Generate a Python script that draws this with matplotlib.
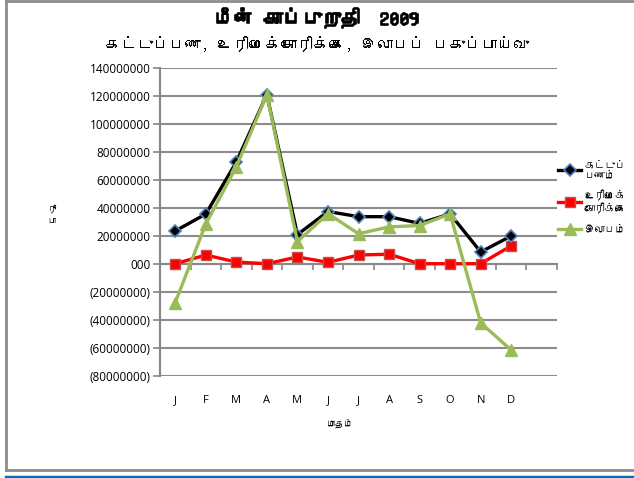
import matplotlib
matplotlib.use("Agg")
import matplotlib.pyplot as plt
from matplotlib import font_manager
from matplotlib import patheffects
from matplotlib.ft2font import FT2Font
from matplotlib.lines import Line2D
import numpy as np

# data (rupees)
months = ["J", "F", "M", "A", "M", "J", "J", "A", "S", "O", "N", "D"]
premium = [23.6e6, 35.7e6, 72.9e6, 121e6, 21e6, 37.5e6, 33.8e6, 33.8e6, 29e6, 35.8e6, 8.6e6, 20e6]
claims = [0.2e6, 6.4e6, 1.4e6, 0.2e6, 5e6, 1.2e6, 6.4e6, 7e6, 0.2e6, 0.2e6, 0.2e6, 13e6]
profit = [-27.5e6, 28.6e6, 69.5e6, 121e6, 16e6, 36e6, 21.6e6, 26.5e6, 27.5e6, 35.8e6, -42e6, -61.5e6]

ytick_vals = [140e6, 120e6, 100e6, 80e6, 60e6, 40e6, 20e6, 0, -20e6, -40e6, -60e6, -80e6]
ytick_labels = ["140000000", "120000000", "100000000", "80000000", "60000000",
                "40000000", "20000000", "000", "(20000000)", "(40000000)",
                "(60000000)", "(80000000)"]

series_names = ["கட்டுப்\nபணம்", "உரிமைக்\nகோரிக்கை", "இலாபம்"]
title1 = "மீன் காப்புறுதி  2009"
title2 = "கட்டுப்பண, உரிமைக்கோரிக்கை, இலாபப் பகுப்பாய்வு"


def find_tamil_font():
    for f in font_manager.fontManager.ttflist:
        try:
            ft = FT2Font(f.fname)
            if ft.get_char_index(0x0BAE) and ft.get_char_index(0x0BC0):
                return f.name
        except Exception:
            pass
    return None


tam = find_tamil_font()
fams = ([tam] if tam else []) + ["DejaVu Sans"]
plt.rcParams["font.family"] = ["DejaVu Sans"]

fig = plt.figure(figsize=(6.34, 4.78), dpi=100)
ax = fig.add_axes([160 / 634, 1 - 376 / 478, 397 / 634, 308 / 478])

# outer frame and blue rule
fig.add_artist(Line2D([6 / 634, 6 / 634], [1 - 0.5 / 478, 1 - 470 / 478],
                      transform=fig.transFigure, color="#8c8c8c", lw=2))
fig.add_artist(Line2D([6 / 634, 1], [1 - 0.5 / 478, 1 - 0.5 / 478],
                      transform=fig.transFigure, color="#8c8c8c", lw=2))
fig.add_artist(Line2D([6 / 634, 1], [1 - 470 / 478, 1 - 470 / 478],
                      transform=fig.transFigure, color="#8c8c8c", lw=2))
fig.add_artist(Line2D([6 / 634, 1], [1 - 476.5 / 478, 1 - 476.5 / 478],
                      transform=fig.transFigure, color="#0070C0", lw=2.5))

x = np.arange(len(months))
ax.plot(x, premium, color="black", lw=2.4, marker="D", ms=6,
        mfc="black", mec="#4F81BD", mew=1.2, label=series_names[0], zorder=4)
ax.plot(x, claims, color="#FF0000", lw=2.4, marker="s", ms=7,
        mfc="#FF0000", mec="#C0504D", mew=1, label=series_names[1], zorder=3)
ax.plot(x, profit, color="#9BBB59", lw=2.4, marker="^", ms=8,
        mfc="#9BBB59", mec="#9BBB59", label=series_names[2], zorder=5)

ax.set_ylim(-80e6, 140e6)
ax.set_xlim(-0.5, 12.5)
ax.set_yticks(ytick_vals)
ax.set_yticklabels(ytick_labels, fontsize=8.5, fontfamily="Open Sans")
ax.tick_params(axis="y", length=5, color="#888888", width=1.2, pad=2)
ax.yaxis.grid(True, color="#8c8c8c", lw=1.5)
ax.set_axisbelow(True)

for s in ["top", "right"]:
    ax.spines[s].set_visible(False)
ax.spines["left"].set_color("#888888")
ax.spines["left"].set_linewidth(1.5)
ax.spines["bottom"].set_position(("data", 0))
ax.spines["bottom"].set_color("#888888")
ax.spines["bottom"].set_linewidth(1.5)
ax.set_xticks(np.arange(-0.5, 13, 1))
ax.tick_params(axis="x", length=4, color="#888888", width=1.2, labelbottom=False)

sec = ax.secondary_xaxis("bottom")
sec.spines["bottom"].set_visible(False)
sec.set_xticks(x)
sec.set_xticklabels(months, fontsize=8, fontfamily="Open Sans")
sec.tick_params(length=0, pad=14)

fig.text(52 / 634, 1 - 215 / 478, "ரூ\nபா", family=fams, fontsize=6.5,
         style="italic", ha="center", va="center", linespacing=1.6)
fig.text(340 / 634, 1 - 423 / 478, "மாதம்", family=fams, fontsize=6.5,
         style="italic", ha="center", va="center")

# the Tamil face has no bold, so thicken the title with a stroke
fig.text(0.5, 1 - 18 / 478, title1, family=fams, fontsize=14, weight="bold",
         ha="center", va="center",
         path_effects=[patheffects.withStroke(linewidth=1.2, foreground="black")])
fig.text(0.5, 1 - 44 / 478, title2, family=fams, fontsize=11.5, style="italic",
         ha="center", va="center")

leg = ax.legend(loc="center left", bbox_to_anchor=(0.98, 0.58), frameon=False,
                prop={"family": fams, "size": 7.5, "style": "italic"},
                handlelength=2.2, handletextpad=0.3, labelspacing=1.0)

fig.savefig("out.png", dpi=100)
